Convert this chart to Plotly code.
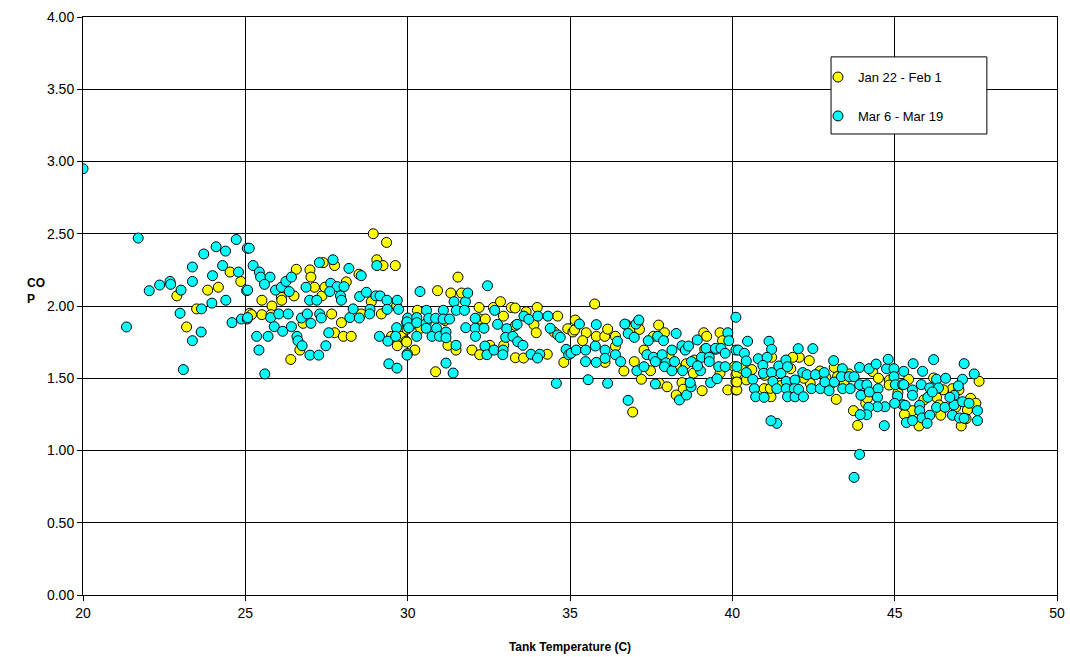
import plotly.graph_objects as go

# Series 1: Jan 22 - Feb 1 (yellow)
jan_x = [22.89, 23.19, 23.50, 23.84, 24.17, 24.53, 24.86, 25.14,
         25.19, 25.51, 25.51, 25.82, 25.79, 26.11, 26.12, 26.50, 26.57, 26.68, 26.40, 26.78,
         26.99, 27.02, 27.13, 27.36, 27.45, 27.40, 27.75, 27.66, 27.75, 27.96, 28.02, 28.26,
         28.11, 28.57, 28.50, 28.88, 28.94, 29.35, 29.05, 29.24, 29.62, 29.19, 29.66, 29.50,
         29.80, 29.68, 29.95, 29.98,
         29.97, 30.22, 30.30, 30.40, 30.92, 30.86, 31.33, 31.66, 31.55, 31.15, 31.24, 31.49,
         32.20, 32.22, 32.39, 31.98, 32.22, 32.53, 32.96, 32.64, 32.86, 32.95, 33.19, 33.31,
         33.32, 33.57, 33.32, 33.65, 33.89, 33.96, 33.99, 34.30, 34.62, 34.51, 34.81, 34.93, 35.09,
         35.76, 35.16, 35.14, 35.50, 35.39, 35.81, 36.07, 36.16, 36.08, 36.40, 36.40, 36.66,
         36.75, 36.88, 37.09, 37.14, 36.93, 36.98, 37.20, 37.28, 37.48, 37.57, 37.73, 37.91,
         37.75, 37.99, 38.06, 38.27, 38.45, 38.49, 38.27, 38.58, 38.80, 38.83, 39.07, 39.12,
         39.21, 39.15, 39.48, 39.62, 39.70, 39.62, 39.86, 40.06, 40.11, 40.11, 40.11,
         40.14, 40.14, 40.43, 40.98, 41.19, 40.28, 42.06, 42.37, 41.86, 41.21, 43.20, 43.73,
         43.86, 44.11, 43.14, 44.32, 44.84, 43.24, 43.44, 40.14, 41.17, 41.80, 42.88, 42.40,
         44.16, 44.83, 40.60, 41.00, 41.50, 42.20, 42.70, 43.00, 43.60, 44.00, 44.50,
         47.60, 45.43, 46.20, 46.78, 47.34, 47.50, 47.05, 45.75, 46.42, 45.55, 46.29, 47.24,
         46.98, 46.88, 46.37, 45.10, 45.90, 46.50, 47.20, 45.30]
jan_y = [2.07, 1.855, 1.98, 2.11, 2.13, 2.235, 2.17, 1.95,
         1.94, 2.04, 1.94, 2.00, 1.94, 2.06, 2.04, 2.07, 2.254, 1.695, 1.63, 1.88,
         2.25, 2.20, 2.13, 2.07, 2.13, 2.30, 2.28, 1.945, 1.815, 1.885, 1.79, 1.79,
         2.167, 1.945, 2.22, 2.03, 2.50, 2.44, 2.32, 2.28, 2.28, 1.945, 2.00, 1.79,
         1.79, 1.725, 1.757, 1.84,
         1.75, 1.695, 1.97, 1.846, 2.106, 1.545, 2.09, 2.09, 2.20, 1.90, 1.728, 1.695,
         1.99, 1.91, 1.91, 1.695, 1.663, 1.728, 1.728, 1.99, 2.03, 1.93, 1.99, 1.986,
         1.642, 1.64, 1.865, 1.96, 1.871, 1.815, 1.99, 1.666, 1.93, 1.82, 1.61, 1.843, 1.82,
         2.014, 1.903, 1.834, 1.815, 1.76, 1.79, 1.79, 1.84, 1.61, 1.79, 1.72, 1.55,
         1.868, 1.846, 1.875, 1.838, 1.266, 1.615, 1.493, 1.695, 1.552, 1.79, 1.868, 1.815,
         1.465, 1.441, 1.645, 1.58, 1.47, 1.424, 1.384, 1.60, 1.535, 1.626, 1.414, 1.815,
         1.79, 1.70, 1.70, 1.815, 1.76, 1.535, 1.419, 1.58, 1.522, 1.476, 1.419,
         1.535, 1.419, 1.488, 1.428, 1.372, 1.569, 1.645, 1.622, 1.645, 1.645, 1.354, 1.276,
         1.174, 1.326, 1.575, 1.546, 1.488, 1.511, 1.474, 1.474, 1.43, 1.566, 1.506, 1.465,
         1.361, 1.453, 1.56, 1.52, 1.45, 1.50, 1.55, 1.45, 1.53, 1.45, 1.50,
         1.479, 1.493, 1.502, 1.428, 1.361, 1.327, 1.17, 1.17, 1.244, 1.276, 1.368, 1.28,
         1.419, 1.30, 1.315, 1.40, 1.35, 1.42, 1.22, 1.25]

# Series 2: Mar 6 - Mar 19 (cyan)
mar_x = [20.00, 21.70, 21.34, 22.04, 22.36, 22.68, 22.70, 23.02, 22.99, 23.37, 23.09, 23.37,
         23.37, 23.65, 23.64, 23.72, 23.97, 23.99, 24.10, 24.30, 24.39, 24.40, 24.79, 24.59,
         24.88, 24.72, 25.06, 25.04, 25.06,
         25.12, 25.24, 25.43, 25.47, 25.76, 25.59, 25.07, 25.07, 25.78, 25.35, 25.42, 25.60,
         25.70, 25.89, 25.93, 26.11, 26.25, 26.42, 26.35, 26.03, 26.32, 26.15, 26.42, 26.59,
         26.62, 26.75, 26.73, 26.91, 27.02, 26.87, 26.98, 27.20, 26.99, 27.26, 27.48, 27.29,
         27.34, 27.28, 27.70, 27.63, 27.83, 28.04, 27.60, 27.57, 27.93, 27.96, 28.19, 28.22,
         28.32, 28.51, 28.52, 28.73, 28.57, 28.84, 28.83, 29.05, 29.02, 29.15, 29.36, 29.37,
         29.68, 29.72, 29.13, 29.39, 29.66, 29.63, 29.99, 29.42, 29.67, 29.97, 30.00, 30.07,
         29.98, 30.03, 29.98, 30.28, 30.38, 30.58, 30.28, 30.28, 30.57, 30.57, 30.65, 30.86,
         31.10, 30.75, 30.89, 30.98, 31.18, 31.40, 31.43, 31.78, 31.85, 31.50, 31.75, 31.09,
         31.29, 31.18, 31.18, 31.49, 31.79, 32.08, 32.08, 32.09, 32.35, 32.38, 32.44, 32.66,
         32.94, 32.93, 32.46, 32.68, 32.77, 33.05, 33.02, 33.24, 33.37, 33.39, 33.55, 33.58,
         33.73, 34.01, 33.80, 34.07, 34.00, 34.32, 34.39, 34.62, 34.70, 34.58, 34.88, 34.96,
         35.29, 35.03, 35.19, 35.48, 35.48, 35.81, 35.78, 35.81, 36.08, 36.08, 35.56, 36.16,
         36.46, 36.40, 36.56, 36.69, 36.79, 36.98, 37.03, 37.12, 36.79, 37.06, 37.28, 37.41,
         37.37, 37.57, 37.63, 37.63, 37.70, 37.88, 37.84, 37.96, 37.91, 38.27, 38.14, 38.22,
         38.14, 38.45, 38.55, 38.65, 38.37, 38.59, 38.73, 38.70, 38.47, 38.74, 38.92, 39.02,
         39.05, 38.93, 39.19, 39.29, 39.29, 39.33, 39.48, 39.58, 39.53, 39.65, 39.78, 39.86,
         39.89, 39.78, 40.11, 40.11,
         40.47, 41.13, 41.21, 42.03, 42.48, 40.18, 40.37, 40.14, 40.43, 40.80, 41.07,
         40.43, 40.63, 40.68, 40.72, 40.98, 40.94, 40.96, 41.21, 41.25, 41.37, 41.43, 41.50,
         41.65, 41.70, 41.66, 41.66, 41.70, 41.93, 41.91, 41.93, 42.04, 42.19, 42.17, 42.30,
         42.44, 42.56, 42.71, 42.83, 42.85, 42.98, 43.12, 43.14, 43.39, 43.40, 43.36, 43.60,
         43.63, 43.75, 43.92, 43.92, 43.96, 44.14, 44.21, 44.22, 44.43, 44.49, 44.47, 44.75,
         44.80, 44.98, 44.98, 45.02, 45.09, 45.24, 45.25, 45.00, 44.70, 44.47, 44.20, 44.14,
         43.94, 43.92, 43.75, 44.68, 41.37, 41.19,
         46.20, 45.57, 47.14, 47.45, 45.28, 45.86, 46.29, 46.57, 47.09, 45.28, 45.82, 46.08,
         46.35, 46.96, 45.55, 45.55, 46.02, 46.29, 46.55, 46.83, 46.83, 47.09, 47.29, 45.32,
         45.77, 45.77, 45.84, 46.08, 45.36, 45.55, 46.00, 46.78, 47.00, 47.14, 47.55, 47.55,
         46.70, 46.16]
mar_y = [2.95, 2.47, 1.855, 2.106, 2.145, 2.17, 2.15, 2.11, 1.95, 1.76, 1.56, 2.27,
         2.17, 1.98, 1.82, 2.36, 2.02, 2.21, 2.41, 2.28, 2.38, 2.04, 2.235, 1.885,
         1.91, 2.46, 2.40, 2.106, 1.91,
         2.40, 2.28, 2.235, 2.20, 2.20, 2.15, 2.11, 1.92, 1.92, 1.79, 1.695, 1.53,
         1.79, 1.857, 2.11, 2.13, 2.17, 2.20, 2.10, 1.945, 1.945, 1.825, 1.857, 1.79,
         1.76, 1.725, 1.917, 1.945, 1.88, 2.13, 2.04, 2.04, 1.66, 1.66, 1.725, 1.945,
         1.917, 2.30, 2.32, 2.157, 2.134, 2.134, 2.10, 1.815, 2.07, 2.04, 2.26, 1.92,
         1.98, 1.917, 2.065, 2.095, 2.21, 1.977, 1.945, 2.28, 2.07, 2.07, 2.04, 1.977,
         2.04, 1.977, 1.79, 1.757, 1.85, 1.79, 1.67, 1.60, 1.57, 1.885, 1.917, 1.857,
         1.89, 1.85, 1.66, 1.79, 2.10, 1.97, 1.92, 1.885, 1.88, 1.846, 1.915, 1.915,
         1.97, 1.79, 1.846, 1.79, 1.605, 1.536, 2.03, 2.03, 2.09, 1.97, 1.97, 1.91,
         1.91, 1.82, 1.78, 1.728, 1.85, 1.915, 1.846, 1.79, 1.846, 1.723, 1.663, 1.695,
         1.695, 1.663, 2.14, 1.97, 1.873, 1.843, 1.783, 1.79, 1.873, 1.753, 1.728, 1.93,
         1.908, 1.93, 1.666, 1.666, 1.64, 1.93, 1.846, 1.80, 1.783, 1.465, 1.70, 1.663,
         1.875, 1.673, 1.695, 1.695, 1.615, 1.871, 1.723, 1.61, 1.695, 1.638, 1.49, 1.465,
         1.756, 1.663, 1.615, 1.875, 1.81, 1.783, 1.875, 1.903, 1.347, 1.552, 1.58, 1.76,
         1.663, 1.645, 1.615, 1.46, 1.79, 1.76, 1.663, 1.607, 1.58, 1.81, 1.552, 1.615,
         1.695, 1.725, 1.695, 1.723, 1.35, 1.384, 1.441, 1.47, 1.552, 1.615, 1.765, 1.552,
         1.645, 1.585, 1.707, 1.645, 1.615, 1.47, 1.707, 1.58, 1.497, 1.707, 1.673, 1.815,
         1.76, 1.58, 1.922, 1.695,
         1.756, 1.756, 1.70, 1.705, 1.705, 1.695, 1.673, 1.58, 1.62, 1.635, 1.645,
         1.539, 1.492, 1.428, 1.372, 1.368, 1.589, 1.534, 1.539, 1.478, 1.428, 1.585, 1.534,
         1.626, 1.580, 1.478, 1.428, 1.372, 1.488, 1.428, 1.372, 1.423, 1.372, 1.539, 1.525,
         1.428, 1.525, 1.428, 1.539, 1.474, 1.414, 1.622, 1.474, 1.566, 1.428, 1.511, 1.511,
         1.428, 1.511, 1.575, 1.455, 1.382, 1.455, 1.566, 1.405, 1.598, 1.428, 1.368, 1.566,
         1.631, 1.566, 1.511, 1.455, 1.377, 1.455, 1.317, 1.326, 1.303, 1.303, 1.299, 1.248,
         1.248, 0.973, 0.814, 1.172, 1.188, 1.206,
         1.629, 1.601, 1.601, 1.530, 1.548, 1.548, 1.493, 1.50, 1.493, 1.456, 1.456, 1.433,
         1.433, 1.447, 1.419, 1.382, 1.368, 1.299, 1.299, 1.382, 1.315, 1.338, 1.327, 1.313,
         1.313, 1.276, 1.225, 1.244, 1.193, 1.207, 1.188, 1.244, 1.225, 1.223, 1.276, 1.207,
         1.368, 1.405]

series_names = ["Jan 22 - Feb 1", "Mar 6 - Mar 19"]
x_title = "Tank Temperature (C)"
y_title = "CO<br>P"

FONT = "Liberation Sans, Arial, sans-serif"

fig = go.Figure()
fig.add_trace(go.Scatter(
    x=jan_x, y=jan_y, mode="markers", name=series_names[0], legendgroup="a",
    marker=dict(color="#FFFF00", size=10, line=dict(color="black", width=1)),
))
fig.add_trace(go.Scatter(
    x=mar_x, y=mar_y, mode="markers", name=series_names[1], legendgroup="b",
    marker=dict(color="#00FFFF", size=10, line=dict(color="black", width=1)),
))

fig.update_layout(
    width=1070, height=657,
    margin=dict(l=83, r=13, t=17, b=62, autoexpand=False),
    paper_bgcolor="white", plot_bgcolor="white",
    font=dict(family=FONT, size=13, color="black"),
    showlegend=True,
    legend=dict(
        x=0.7546, y=0.922, xanchor="left", yanchor="top",
        bgcolor="rgba(0,0,0,0)", borderwidth=0,
        font=dict(family=FONT, size=13, color="black"),
        tracegroupgap=19, traceorder="grouped",
        itemwidth=30,
    ),
    xaxis=dict(
        range=[20, 50], dtick=5, tick0=20, automargin=False,
        showgrid=True, gridcolor="black", gridwidth=1,
        showline=True, linecolor="black", linewidth=1, mirror=True,
        ticks="outside", ticklen=5, tickcolor="black",
        tickfont=dict(family=FONT, size=14),
        zeroline=False,
        title=dict(text="<b>" + x_title + "</b>", font=dict(family=FONT, size=12), standoff=22),
    ),
    yaxis=dict(
        range=[0, 4], dtick=0.5, tick0=0, tickformat=".2f", automargin=False,
        showgrid=True, gridcolor="black", gridwidth=1,
        showline=True, linecolor="black", linewidth=1, mirror=True,
        ticks="outside", ticklen=5, tickcolor="black",
        tickfont=dict(family=FONT, size=14),
        zeroline=False,
    ),
    shapes=[dict(
        type="rect", xref="paper", yref="paper",
        x0=0.768, x1=0.928, y0=0.7976, y1=0.931,
        fillcolor="white", line=dict(color="black", width=1), layer="above",
    )],
    annotations=[dict(
        text="<b>" + y_title + "</b>", xref="paper", yref="paper",
        x=-0.0595, y=0.526, xanchor="left", showarrow=False, align="left",
        font=dict(family=FONT, size=12, color="black"),
    )],
)

fig.write_html("out.html", config={"displayModeBar": False},
               post_script="document.body.style.margin='0';")
